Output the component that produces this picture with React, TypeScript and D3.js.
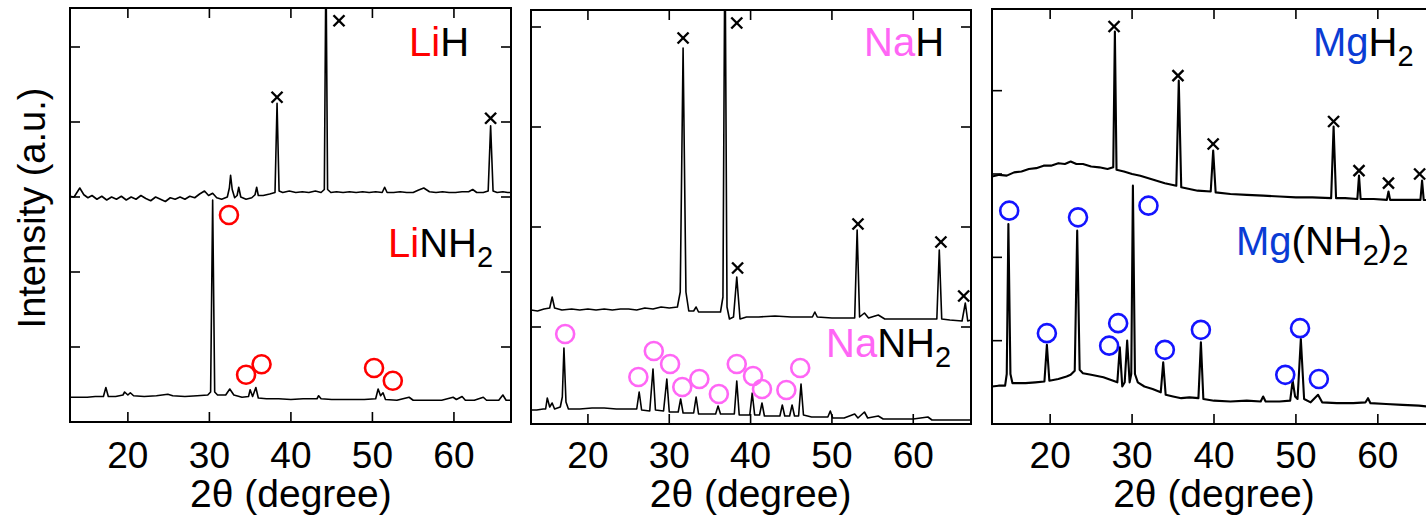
import React from "react";
import * as d3 from "d3";

type Pt = [number, number];

const xTicks = [20, 30, 40, 50, 60];

// ---- LiH / LiNH2 ----
const liH: Pt[] = [
  [12.9, 3.01], [13.4, 3.0], [14.1, 3.12], [14.6, 3.03], [15.1, 2.99], [15.6, 3.02], [16.2, 2.97],
  [16.8, 3.01], [17.4, 2.96], [18.0, 3.0], [18.6, 2.97], [19.2, 3.01], [19.8, 2.96], [20.4, 3.0],
  [21.0, 2.97], [21.6, 3.02], [22.2, 2.98], [22.8, 2.95], [23.4, 3.0], [24.0, 2.97], [24.6, 2.94],
  [25.2, 2.99], [25.8, 2.97], [26.4, 3.0], [27.0, 2.97], [27.6, 3.01], [28.2, 2.99], [28.8, 3.04],
  [29.4, 3.08], [29.9, 3.02], [30.4, 3.05], [30.9, 2.99], [31.5, 2.97], [32.2, 3.0], [32.45, 3.12],
  [32.6, 3.29], [32.8, 3.1], [33.1, 2.99], [33.4, 3.02], [33.6, 3.13], [33.85, 3.0], [34.5, 2.97],
  [35.2, 2.99], [35.6, 3.03], [35.8, 3.13], [36.0, 3.02], [36.6, 3.02], [37.4, 3.04], [38.05, 3.06],
  [38.3, 4.25], [38.55, 3.08], [39.0, 3.06], [39.8, 3.08], [40.6, 3.06], [41.4, 3.07], [42.2, 3.06],
  [43.0, 3.08], [43.7, 3.06], [44.1, 3.1], [44.3, 6.2], [44.5, 3.1], [44.9, 3.06], [45.6, 3.07],
  [46.4, 3.06], [47.2, 3.07], [48.0, 3.06], [48.8, 3.07], [49.6, 3.06], [50.4, 3.07], [51.2, 3.06],
  [51.5, 3.13], [51.8, 3.06], [52.6, 3.06], [53.4, 3.07], [54.2, 3.06], [55.0, 3.06], [55.6, 3.09],
  [56.3, 3.12], [57.0, 3.07], [57.8, 3.06], [58.6, 3.07], [59.4, 3.06], [60.2, 3.06], [61.0, 3.07],
  [61.8, 3.07], [62.3, 3.1], [62.8, 3.06], [63.6, 3.06], [64.2, 3.08], [64.5, 3.95], [64.8, 3.08],
  [65.3, 3.06], [66.0, 3.07], [66.6, 3.06], [67.0, 3.06],
];
const liNH2: Pt[] = [
  [12.9, 0.33], [14, 0.33], [15, 0.33], [16, 0.34], [17.0, 0.34], [17.3, 0.46], [17.6, 0.34],
  [18.5, 0.34], [19.4, 0.36], [19.6, 0.4], [20.0, 0.36], [20.3, 0.39], [20.7, 0.35], [22, 0.34],
  [23.5, 0.35], [24.9, 0.37], [25.5, 0.35], [27, 0.34], [28.5, 0.35], [29.8, 0.36], [30.15, 0.4],
  [30.4, 2.96], [30.65, 0.4], [31, 0.36], [32.0, 0.36], [32.5, 0.44], [33.0, 0.36], [34.0, 0.33],
  [34.8, 0.34], [35.0, 0.43], [35.3, 0.34], [35.7, 0.46], [36.0, 0.32], [37, 0.31], [38.5, 0.31],
  [40, 0.3], [41.5, 0.31], [43.2, 0.31], [43.4, 0.35], [43.7, 0.31], [45, 0.3], [47, 0.3], [49, 0.3],
  [50.4, 0.31], [50.7, 0.44], [51.0, 0.35], [51.3, 0.39], [51.6, 0.3], [53, 0.29], [54.5, 0.33],
  [55, 0.29], [57, 0.29], [58.5, 0.29], [59.9, 0.33], [60.3, 0.3], [61.0, 0.34], [61.4, 0.29],
  [62.5, 0.29], [63.6, 0.33], [64, 0.29], [65.5, 0.29], [66.0, 0.36], [66.4, 0.29], [67, 0.29],
];
const liHCross: Pt[] = [[38.3, 4.33], [45.9, 5.35], [64.5, 4.05]];
const liNH2Circle: Pt[] = [[32.4, 2.76], [34.5, 0.63], [36.4, 0.77], [50.2, 0.72], [52.5, 0.55]];

// ---- NaH / NaNH2 ----
const naH: Pt[] = [
  [13.0, 1.17], [13.8, 1.16], [14.6, 1.18], [15.3, 1.19], [15.6, 1.3], [15.9, 1.19], [16.8, 1.17],
  [18, 1.18], [19, 1.17], [20, 1.18], [21, 1.17], [22, 1.18], [23, 1.17], [24, 1.18], [25, 1.18],
  [26, 1.17], [27, 1.19], [28, 1.18], [29, 1.2], [30, 1.19], [31.0, 1.2], [31.35, 1.35],
  [31.7, 3.79], [32.05, 1.35], [32.4, 1.16], [33.0, 1.16], [33.3, 1.2], [33.6, 1.15], [35, 1.15],
  [36.3, 1.15], [36.6, 1.3], [36.85, 5.0], [37.1, 1.2], [37.4, 1.08], [37.9, 1.1], [38.3, 1.5],
  [38.7, 1.08], [39.5, 1.1], [41, 1.1], [43, 1.11], [45, 1.1], [47.6, 1.1], [47.9, 1.15],
  [48.2, 1.1], [50, 1.09], [52, 1.09], [52.8, 1.09], [53.1, 1.97], [53.4, 1.1], [54.0, 1.14],
  [54.5, 1.09], [55.7, 1.12], [56.5, 1.08], [58, 1.08], [60, 1.08], [62, 1.08], [62.9, 1.08],
  [63.2, 1.77], [63.5, 1.08], [64.5, 1.07], [66.0, 1.06], [66.4, 1.24], [66.7, 1.06], [67.1, 1.07],
];
const naNH2: Pt[] = [
  [13.0, 0.17], [13.7, 0.17], [14.5, 0.18], [14.8, 0.18], [15.0, 0.29], [15.3, 0.2], [15.6, 0.24],
  [15.9, 0.18], [16.6, 0.2], [16.85, 0.3], [17.05, 0.79], [17.3, 0.25], [17.6, 0.18], [19, 0.18],
  [20.5, 0.19], [22, 0.19], [23.5, 0.18], [25, 0.18], [26.0, 0.18], [26.3, 0.35], [26.6, 0.17],
  [27.6, 0.16], [28.0, 0.58], [28.3, 0.17], [29.3, 0.16], [29.7, 0.48], [30.0, 0.15], [31.1, 0.15],
  [31.4, 0.28], [31.7, 0.14], [33.0, 0.14], [33.3, 0.3], [33.6, 0.13], [35.7, 0.13], [36.0, 0.21],
  [36.3, 0.13], [38.0, 0.13], [38.3, 0.46], [38.6, 0.12], [39.9, 0.12], [40.2, 0.34], [40.5, 0.12],
  [41.1, 0.12], [41.4, 0.24], [41.7, 0.11], [43.6, 0.11], [43.9, 0.22], [44.2, 0.11], [44.8, 0.11],
  [45.1, 0.22], [45.4, 0.11], [45.9, 0.11], [46.2, 0.43], [46.5, 0.12], [47.5, 0.1], [49.5, 0.1],
  [49.8, 0.16], [50.1, 0.09], [51.5, 0.09], [52.8, 0.13], [53.2, 0.09], [54.0, 0.15], [54.4, 0.09],
  [55.7, 0.11], [56.3, 0.08], [58, 0.08], [60, 0.08], [61.8, 0.1], [62.3, 0.07], [64, 0.07],
  [66, 0.07], [67.1, 0.07],
];
const naHCross: Pt[] = [[31.7, 3.89], [38.3, 4.04], [38.4, 1.59], [53.2, 2.03], [63.4, 1.85], [66.2, 1.31]];
const naNH2Circle: Pt[] = [
  [17.2, 0.93], [26.2, 0.5], [28.1, 0.76], [30.1, 0.63], [31.6, 0.4], [33.7, 0.48],
  [36.1, 0.33], [38.3, 0.63], [40.3, 0.51], [41.4, 0.38], [44.4, 0.37], [46.1, 0.59],
];

// ---- MgH2 / Mg(NH2)2 ----
const mgH2: Pt[] = [
  [12.9, 2.97], [13.8, 2.99], [14.7, 2.98], [15.6, 3.02], [16.5, 3.03], [17.4, 3.06], [18.3, 3.07],
  [19.2, 3.1], [20.1, 3.1], [21.0, 3.13], [21.8, 3.12], [22.5, 3.15], [23.2, 3.12], [24.0, 3.12],
  [25.0, 3.09], [26.0, 3.08], [27.0, 3.06], [27.7, 3.08], [27.9, 4.71], [28.1, 3.05], [29, 3.03],
  [30, 3.0], [31, 2.98], [32, 2.95], [33, 2.92], [34, 2.89], [35.4, 2.86], [35.7, 4.12],
  [36.0, 2.84], [37, 2.82], [38, 2.8], [39.6, 2.79], [39.9, 3.28], [40.2, 2.78], [42, 2.76],
  [44, 2.75], [46, 2.74], [48, 2.73], [50, 2.72], [52, 2.72], [54.3, 2.71], [54.6, 3.57],
  [54.9, 2.71], [56, 2.71], [57.5, 2.7], [57.7, 2.98], [57.9, 2.7], [59.5, 2.7], [61.1, 2.69],
  [61.3, 2.79], [61.5, 2.69], [63, 2.69], [65.2, 2.69], [65.4, 2.92], [65.6, 2.69], [67.1, 2.68],
];
const mgNH22: Pt[] = [
  [12.9, 0.45], [13.7, 0.46], [14.5, 0.46], [14.7, 0.6], [14.9, 2.4], [15.15, 0.6], [15.4, 0.49],
  [16.2, 0.49], [17, 0.49], [18.2, 0.5], [19.3, 0.51], [19.6, 0.95], [19.9, 0.52], [21, 0.54],
  [22.0, 0.57], [22.5, 0.59], [23.0, 0.64], [23.3, 2.32], [23.6, 0.65], [24, 0.61], [25, 0.59],
  [26.5, 0.56], [28.2, 0.5], [28.5, 0.92], [28.8, 0.45], [29.1, 0.5], [29.4, 1.0], [29.7, 0.5],
  [29.9, 0.6], [30.1, 2.86], [30.35, 0.6], [30.7, 0.5], [31.5, 0.45], [32.5, 0.42], [33.5, 0.38],
  [33.8, 0.74], [34.1, 0.35], [35, 0.33], [36, 0.31], [37, 0.32], [38.1, 0.31], [38.4, 0.98],
  [38.7, 0.3], [40, 0.28], [42, 0.27], [44, 0.28], [45.7, 0.27], [46.0, 0.33], [46.3, 0.27],
  [48, 0.27], [49.3, 0.28], [49.6, 0.52], [49.9, 0.33], [50.2, 0.3], [50.6, 1.02], [51.0, 0.3],
  [51.8, 0.26], [52.7, 0.35], [53.2, 0.26], [55, 0.25], [57, 0.25], [58.5, 0.26], [58.8, 0.31],
  [59.1, 0.25], [61, 0.24], [63, 0.23], [65, 0.22], [67.1, 0.2],
];
const mgH2Cross: Pt[] = [[27.8, 4.77], [35.6, 4.18], [39.9, 3.36], [54.6, 3.63], [57.7, 3.04], [61.3, 2.89], [65.1, 3.0]];
const mgNH22Circle: Pt[] = [
  [15.0, 2.56], [19.6, 1.09], [23.4, 2.48], [27.2, 0.94], [28.3, 1.21], [32.0, 2.62],
  [34.0, 0.89], [38.4, 1.13], [48.7, 0.59], [50.5, 1.15], [52.8, 0.54],
];

const RED = "#ff0000";
const PINK = "#ff66f5";
const BLUE_TXT = "#0a3cd4";
const BLUE = "#1414ff";
const FONT = "'Liberation Sans', Arial, Helvetica, sans-serif";

type Label = { x: number; y: number; metal: string; rest: "H" | "H2" | "NH2" | "(NH2)2" };

const panels = [
  {
    id: "li", x0: 70, x1: 511, y0: 8, y1: 422, xDom: [12.9, 67], yDom: [0, 5.52], yTicks: [1, 2, 3, 4, 5],
    curves: [liH, liNH2], crosses: liHCross, circles: liNH2Circle, color: RED, txtColor: RED, lw: 1.6,
    labels: [{ x: 409, y: 56, metal: "Li", rest: "H" }, { x: 388, y: 257, metal: "Li", rest: "NH2" }] as Label[],
  },
  {
    id: "na", x0: 531, x1: 971, y0: 10, y1: 424, xDom: [13.0, 67.1], yDom: [0.03, 4.17], yTicks: [1, 2, 3, 4],
    curves: [naH, naNH2], crosses: naHCross, circles: naNH2Circle, color: PINK, txtColor: PINK, lw: 1.6,
    labels: [{ x: 864, y: 56, metal: "Na", rest: "H" }, { x: 826, y: 357, metal: "Na", rest: "NH2" }] as Label[],
  },
  {
    id: "mg", x0: 992, x1: 1436, y0: 9, y1: 424, xDom: [12.9, 67.1], yDom: [0, 4.98], yTicks: [1, 2, 3, 4],
    curves: [mgH2, mgNH22], crosses: mgH2Cross, circles: mgNH22Circle, color: BLUE, txtColor: BLUE_TXT, lw: 2.1,
    labels: [{ x: 1313, y: 56, metal: "Mg", rest: "H2" }, { x: 1236, y: 255, metal: "Mg", rest: "(NH2)2" }] as Label[],
  },
];

// chemical formula, metal part coloured, subscripts lowered
function Formula({ l, color }: { l: Label; color: string }) {
  return (
    <text x={l.x} y={l.y} fontSize={40} fontFamily={FONT} fill="#000">
      <tspan fill={color}>{l.metal}</tspan>
      {l.rest === "H" && <tspan>H</tspan>}
      {l.rest === "H2" && <><tspan>H</tspan><tspan dy={10} fontSize={29}>2</tspan></>}
      {l.rest === "NH2" && <><tspan>NH</tspan><tspan dy={10} fontSize={29}>2</tspan></>}
      {l.rest === "(NH2)2" && (
        <>
          <tspan>(NH</tspan><tspan dy={10} fontSize={29}>2</tspan>
          <tspan dy={-10}>)</tspan><tspan dy={10} fontSize={29}>2</tspan>
        </>
      )}
    </text>
  );
}

export default function App() {
  const W = 1426, H = 518, tk = 10;
  return (
    <svg width={W} height={H} style={{ position: "absolute", left: 0, top: 0, background: "#fff" }}>
      <defs>
        {panels.map(p => (
          <clipPath id={`clip-${p.id}`} key={p.id}>
            <rect x={p.x0} y={p.y0} width={p.x1 - p.x0} height={p.y1 - p.y0} />
          </clipPath>
        ))}
      </defs>
      {panels.map(p => {
        const x = d3.scaleLinear().domain(p.xDom).range([p.x0, p.x1]);
        const y = d3.scaleLinear().domain(p.yDom).range([p.y1, p.y0]);
        const line = d3.line<Pt>().x(d => x(d[0])).y(d => y(d[1]));
        return (
          <g key={p.id}>
            <g clipPath={`url(#clip-${p.id})`}>
              {p.curves.map((c, i) => (
                <path key={i} d={line(c) || ""} fill="none" stroke="#000" strokeWidth={p.lw} strokeLinejoin="round" />
              ))}
            </g>
            {p.crosses.map((d, i) => {
              const cx = x(d[0]), cy = y(d[1]), s = 5.5;
              return (
                <g key={i} stroke="#000" strokeWidth={2.4}>
                  <line x1={cx - s} y1={cy - s} x2={cx + s} y2={cy + s} />
                  <line x1={cx - s} y1={cy + s} x2={cx + s} y2={cy - s} />
                </g>
              );
            })}
            {p.circles.map((d, i) => (
              <circle key={i} cx={x(d[0])} cy={y(d[1])} r={9} fill="none" stroke={p.color} strokeWidth={2.6} />
            ))}
            {/* frame + ticks */}
            <rect x={p.x0} y={p.y0} width={p.x1 - p.x0} height={p.y1 - p.y0} fill="none" stroke="#000" strokeWidth={2} />
            {xTicks.map(t => (
              <g key={t} stroke="#000" strokeWidth={1.6}>
                <line x1={x(t)} x2={x(t)} y1={p.y1} y2={p.y1 - tk} />
                <line x1={x(t)} x2={x(t)} y1={p.y0} y2={p.y0 + tk} />
              </g>
            ))}
            {p.yTicks.map(t => (
              <g key={t} stroke="#000" strokeWidth={1.6}>
                <line x1={p.x0} x2={p.x0 + tk} y1={y(t)} y2={y(t)} />
                <line x1={p.x1} x2={p.x1 - tk} y1={y(t)} y2={y(t)} />
              </g>
            ))}
            {xTicks.map(t => (
              <text key={t} x={x(t)} y={468} textAnchor="middle" fontSize={37} fontFamily={FONT}>{t}</text>
            ))}
            <text x={(x(13) + x(67)) / 2} y={507} textAnchor="middle" fontSize={39} fontFamily={FONT}>2θ (degree)</text>
            {p.labels.map((l, i) => <Formula key={i} l={l} color={p.txtColor} />)}
          </g>
        );
      })}
      <text transform="translate(45,208) rotate(-90)" textAnchor="middle" fontSize={38} fontFamily={FONT}>Intensity (a.u.)</text>
    </svg>
  );
}
